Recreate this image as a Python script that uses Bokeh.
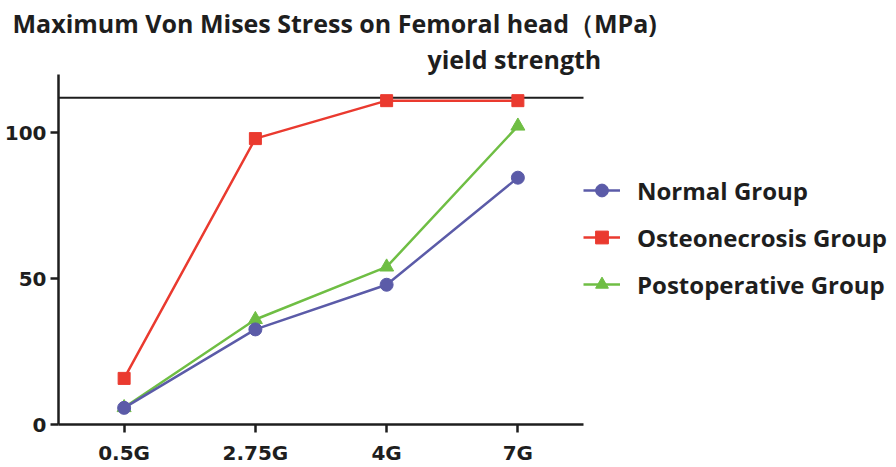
from bokeh.plotting import figure
from bokeh.models import Range1d, FixedTicker, Legend, LegendItem, Label, Title
from bokeh.embed import file_html
from bokeh.resources import INLINE

# ---- data ----
loads = ["0.5G", "2.75G", "4G", "7G"]
normal = [5.7, 32.6, 47.9, 84.6]
osteonecrosis = [15.8, 98.0, 111.0, 111.0]
postoperative = [5.8, 36.0, 54.0, 102.3]
yield_strength = 112
y_ticks = [0, 50, 100]
y_max = 120
series_names = ["Normal Group", "Osteonecrosis Group", "Postoperative Group"]
title_text = "Maximum Von Mises Stress on Femoral head（MPa)"
yield_text = "yield strength"

BLUE = "#5B5BA8"
RED = "#EA3A2F"
GREEN = "#6FBE44"
INK = "#1E1E1E"

# category positions (1..n) on the x scale
xpos = list(range(1, len(loads) + 1))
x_lo, x_hi = 0.5, len(loads) + 0.5

# layout geometry (pixels)
W, H = 896, 467
LEFT, TOP, BOTTOM = 58, 41, 42
AXIS_PX = 525      # width of the drawn x axis
YAXIS_TOP = 74     # page y of the top of the y axis
frame_w = W - LEFT
frame_bottom = H - BOTTOM
x_end = x_lo + (x_hi - x_lo) * frame_w / AXIS_PX
y_end = y_max * (frame_bottom - TOP) / (frame_bottom - YAXIS_TOP)

p = figure(width=W, height=H,
           x_range=Range1d(x_lo, x_end),
           y_range=Range1d(0, y_end),
           output_backend="svg", toolbar_location=None,
           min_border_left=LEFT, min_border_right=0,
           min_border_top=TOP, min_border_bottom=BOTTOM)

p.outline_line_color = None
p.xgrid.visible = False
p.ygrid.visible = False
p.background_fill_color = "white"

for ax in (p.xaxis[0], p.yaxis[0]):
    ax.axis_line_color = INK
    ax.axis_line_width = 2.5
    ax.major_tick_line_color = INK
    ax.major_tick_line_width = 2.5
    ax.major_tick_out = 8
    ax.major_tick_in = 0
    ax.minor_tick_line_color = None
    ax.major_label_text_font = "DejaVu Sans"
    ax.major_label_text_font_style = "bold"
    ax.major_label_text_font_size = "20px"
    ax.major_label_text_color = INK

p.yaxis.ticker = FixedTicker(ticks=y_ticks)
p.yaxis.bounds = (0, y_max)
p.yaxis.major_label_standoff = 4

p.xaxis.ticker = FixedTicker(ticks=xpos)
p.xaxis.major_label_overrides = {x: name for x, name in zip(xpos, loads)}
p.xaxis.bounds = (x_lo, x_hi)
p.xaxis.major_label_standoff = 8

# yield strength reference line
p.line([x_lo, x_hi], [yield_strength, yield_strength], line_color=INK, line_width=2)

# series
ol = p.line(xpos, osteonecrosis, line_color=RED, line_width=2.5)
os_ = p.scatter(xpos, osteonecrosis, marker="square", size=12, fill_color=RED, line_color=RED)
gl = p.line(xpos, postoperative, line_color=GREEN, line_width=2.5)
gs = p.scatter(xpos, postoperative, marker="triangle", size=14, fill_color=GREEN, line_color=GREEN)
nl = p.line(xpos, normal, line_color=BLUE, line_width=2.5)
ns = p.scatter(xpos, normal, marker="circle", size=13, fill_color=BLUE, line_color=BLUE)

legend = Legend(items=[LegendItem(label=series_names[0], renderers=[nl, ns]),
                       LegendItem(label=series_names[1], renderers=[ol, os_]),
                       LegendItem(label=series_names[2], renderers=[gl, gs])],
                location=(525, 123.5),
                border_line_color=None, background_fill_alpha=0,
                glyph_width=37, glyph_height=32, spacing=14,
                label_text_font="Open Sans", label_text_font_style="bold",
                label_text_font_size="24px", label_text_color=INK,
                label_standoff=17, padding=3, margin=0)
p.add_layout(legend)

p.title = Title(text=title_text, align="left", offset=-46, standoff=4,
                text_font="Open Sans", text_font_style="bold", text_font_size="25px",
                text_color=INK)

ylab = Label(x=369, y=frame_bottom - 59, x_units="screen", y_units="screen", text=yield_text,
             text_font="Open Sans", text_font_style="bold", text_font_size="25px",
             text_color=INK, text_baseline="alphabetic", text_align="left")
p.add_layout(ylab)

open("out.html", "w").write(file_html(p, INLINE))
